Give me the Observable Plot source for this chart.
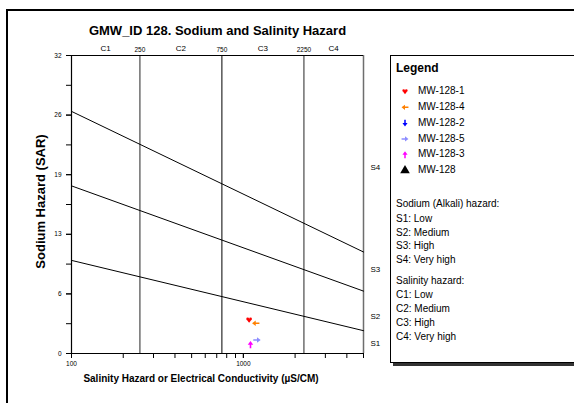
<!DOCTYPE html>
<html><head><meta charset="utf-8">
<script src="https://cdn.jsdelivr.net/npm/d3@7"></script>
<script src="https://cdn.jsdelivr.net/npm/@observablehq/plot@0.6"></script>
<style>body{margin:0;background:#fff;} svg{display:block}</style>
</head><body><div id="chart"></div>
<script>
// ---- data ----
const title = "GMW_ID 128. Sodium and Salinity Hazard";
const xLabel = "Salinity Hazard or Electrical Conductivity (µS/CM)";
const yLabel = "Sodium Hazard (SAR)";
const ecDomain = [100, 5000];
const sarDomain = [0, 32];
const ecMinorTicks = [100,200,300,400,500,600,700,800,900,1000,2000,3000,4000,5000];
const ecLabelTicks = [100, 1000];
const ecTickLabels = ["100", "1000"];
const sarMinorTicks = [0,3.2,6.4,9.6,12.8,16,19.2,22.4,25.6,28.8,32];
const sarLabelTicks = [0,6.4,12.8,19.2,25.6,32];
const sarTickLabels = ["0","6","13","19","26","32"];
const salinityBreaks = [250, 750, 2250];
const salinityBreakLabels = ["250","750","2250"];
const salinityClasses = ["C1","C2","C3","C4"];
const salinityClassEC = [158, 433, 1299, 3354];
const sodiumClasses = ["S1","S2","S3","S4"];
const sodiumClassSAR = [1.1, 4.0, 9.0, 20.0];
const boundaryNames = ["S1/S2","S2/S3","S3/S4"];
const boundaryEC = [100, 5000];
const boundarySARAt100 = [10.0, 18.0, 26.0];
const boundarySARAt5000 = [2.45, 6.7, 10.9];
const wellNames = ["MW-128-1","MW-128-4","MW-128-2","MW-128-5","MW-128-3","MW-128"];
const wellEC = [1080, 1180, null, 1200, 1100, null];
const wellSAR = [3.6, 3.25, null, 1.45, 0.95, null];
const wellColors = ["#ff0000","#ff8000","#0000ff","#8c8cff","#ff00ff","#000000"];
const wellSymbolNames = ["heart","arrowLeft","arrowDown","arrowRight","arrowUp","triangle"];
const sodiumHazardTitle = "Sodium (Alkali) hazard:";
const sodiumHazardItems = ["S1: Low","S2: Medium","S3: High","S4: Very high"];
const salinityHazardTitle = "Salinity hazard:";
const salinityHazardItems = ["C1: Low","C2: Medium","C3: High","C4: Very high"];
const legendTitle = "Legend";

// ---- custom symbols ----
const heart = {draw(ctx, size){
  const r = Math.sqrt(size)/2;
  const rr = r/2, cy = -r*0.35;
  ctx.moveTo(-r, cy+0.1*r); ctx.lineTo(r, cy+0.1*r); ctx.lineTo(0, r); ctx.closePath();
  ctx.moveTo(-rr+rr, cy); ctx.arc(-rr, cy, rr, 0, 2*Math.PI);
  ctx.moveTo(rr+rr, cy); ctx.arc(rr, cy, rr, 0, 2*Math.PI);
}};
function arrow(angle){
  return {draw(ctx, size){
    const r = Math.sqrt(size)/2*1.3;
    const pts = [[r,0],[0,-0.75*r],[0,-0.22*r],[-r,-0.22*r],[-r,0.22*r],[0,0.22*r],[0,0.75*r]];
    const c = Math.cos(angle), s = Math.sin(angle);
    pts.forEach(([x,y],i)=>{const X=x*c-y*s, Y=x*s+y*c; i?ctx.lineTo(X,Y):ctx.moveTo(X,Y);});
    ctx.closePath();
  }};
}
const symbolTypes = {
  heart, arrowLeft: arrow(Math.PI), arrowDown: arrow(Math.PI/2),
  arrowRight: arrow(0), arrowUp: arrow(-Math.PI/2), triangle: d3.symbolTriangle
};

// ---- tables ----
const boundaryTable = boundaryNames.flatMap((n,i)=>[
  {name:n, ec:boundaryEC[0], sar:boundarySARAt100[i]},
  {name:n, ec:boundaryEC[1], sar:boundarySARAt5000[i]}]);
const wells = wellNames.map((n,i)=>({name:n, ec:wellEC[i], sar:wellSAR[i], color:wellColors[i], sym:symbolTypes[wellSymbolNames[i]]}));

const font = "'Liberation Sans', Arial, sans-serif";
const chart = Plot.plot({
  width: 574, height: 403,
  marginLeft: 71, marginRight: 211, marginTop: 55, marginBottom: 50,
  x: {type: "log", domain: ecDomain},
  y: {domain: sarDomain},
  style: {fontFamily: font, background: "white", color: "black", overflow: "visible"},
  marks: [
    Plot.ruleX(salinityBreaks.filter(d=>d!==750), {stroke: "#6e6e6e", strokeWidth: 1.5}),
    Plot.ruleX([750], {stroke: "black", strokeWidth: 1}),
    Plot.ruleX([ecDomain[1]], {stroke: "#6e6e6e", strokeWidth: 1.5}),
    Plot.ruleY([sarDomain[1]], {stroke: "black", strokeWidth: 1.2}),
    Plot.line(boundaryTable, {x: "ec", y: "sar", z: "name", stroke: "black", strokeWidth: 1}),
    Plot.ruleY([sarDomain[0]], {stroke: "black", strokeWidth: 1.2}),
    Plot.ruleX([ecDomain[0]], {stroke: "black", strokeWidth: 1.2}),
    Plot.axisX({ticks: ecMinorTicks, tickFormat: () => "", tickSize: 5, label: null}),
    Plot.axisX({ticks: ecLabelTicks, tickFormat: d => ecTickLabels[ecLabelTicks.indexOf(d)], tickSize: 5, tickPadding: 3, fontSize: 6.5, label: null}),
    Plot.axisY({ticks: sarMinorTicks, tickFormat: () => "", tickSize: 5, label: null}),
    Plot.axisY({ticks: sarLabelTicks, tickFormat: d => sarTickLabels[sarLabelTicks.indexOf(d)], tickSize: 5, tickPadding: 5, fontSize: 6.5, label: null}),
    ...wells.filter(w => w.ec != null).map(w =>
      Plot.dot([w], {x: "ec", y: "sar", symbol: w.sym, fill: w.color, stroke: null, r: 3.2})),
    Plot.text(salinityClasses, {x: (d,i) => salinityClassEC[i], frameAnchor: "top", dy: -10, fontSize: 8, text: d => d}),
    Plot.text(salinityBreakLabels, {x: (d,i) => salinityBreaks[i], frameAnchor: "top", dy: -8, fontSize: 6.5, text: d => d}),
    Plot.text(sodiumClasses, {x: ecDomain[1], y: (d,i) => sodiumClassSAR[i], dx: 7, textAnchor: "start", fontSize: 8, text: d => d}),
    Plot.text([title], {frameAnchor: "top", dy: -30, fontSize: 13, fontWeight: "bold", text: d => d}),
    Plot.text([yLabel], {frameAnchor: "left", textAnchor: "middle", dx: -31, dy: -3, rotate: -90, fontSize: 13, fontWeight: "bold", text: d => d}),
    Plot.text([xLabel], {frameAnchor: "bottom", dy: 28, dx: -16.5, fontSize: 10, fontWeight: "bold", text: d => d})
  ]
});
document.getElementById("chart").append(chart);

// ---- outer border and legend box ----
const svg = d3.select(chart);
svg.append("rect").attr("x", 7).attr("y", 10).attr("width", 700).attr("height", 500)
  .attr("fill", "none").attr("stroke", "black").attr("stroke-width", 2);
const lg = svg.append("g").attr("font-family", font).attr("text-anchor", "start");
lg.append("rect").attr("x", 393).attr("y", 58).attr("width", 200).attr("height", 308).attr("fill", "#333");
lg.append("rect").attr("x", 390.5).attr("y", 55.5).attr("width", 200).attr("height", 307)
  .attr("fill", "white").attr("stroke", "black").attr("stroke-width", 1);
lg.append("text").attr("x", 396).attr("y", 69).attr("dominant-baseline", "middle")
  .attr("font-size", 12).attr("font-weight", "bold").text(legendTitle);
wells.forEach((w, i) => {
  const y = 91.5 + i * 15.8;
  lg.append("path").attr("transform", `translate(405,${y})`)
    .attr("d", d3.symbol(w.sym, w.name === "MW-128" ? 40 : 28)()).attr("fill", w.color);
  lg.append("text").attr("x", 418).attr("y", y).attr("dominant-baseline", "middle")
    .attr("font-size", 10).text(w.name);
});
const hazardLines = [[sodiumHazardTitle, 204.5], ...sodiumHazardItems.map((t,i)=>[t, 219 + i*13.9]),
  [salinityHazardTitle, 281], ...salinityHazardItems.map((t,i)=>[t, 295.5 + i*14])];
hazardLines.forEach(([t, y]) => {
  lg.append("text").attr("x", 396).attr("y", y).attr("dominant-baseline", "middle")
    .attr("font-size", 10).text(t);
});
</script>
</body></html>
